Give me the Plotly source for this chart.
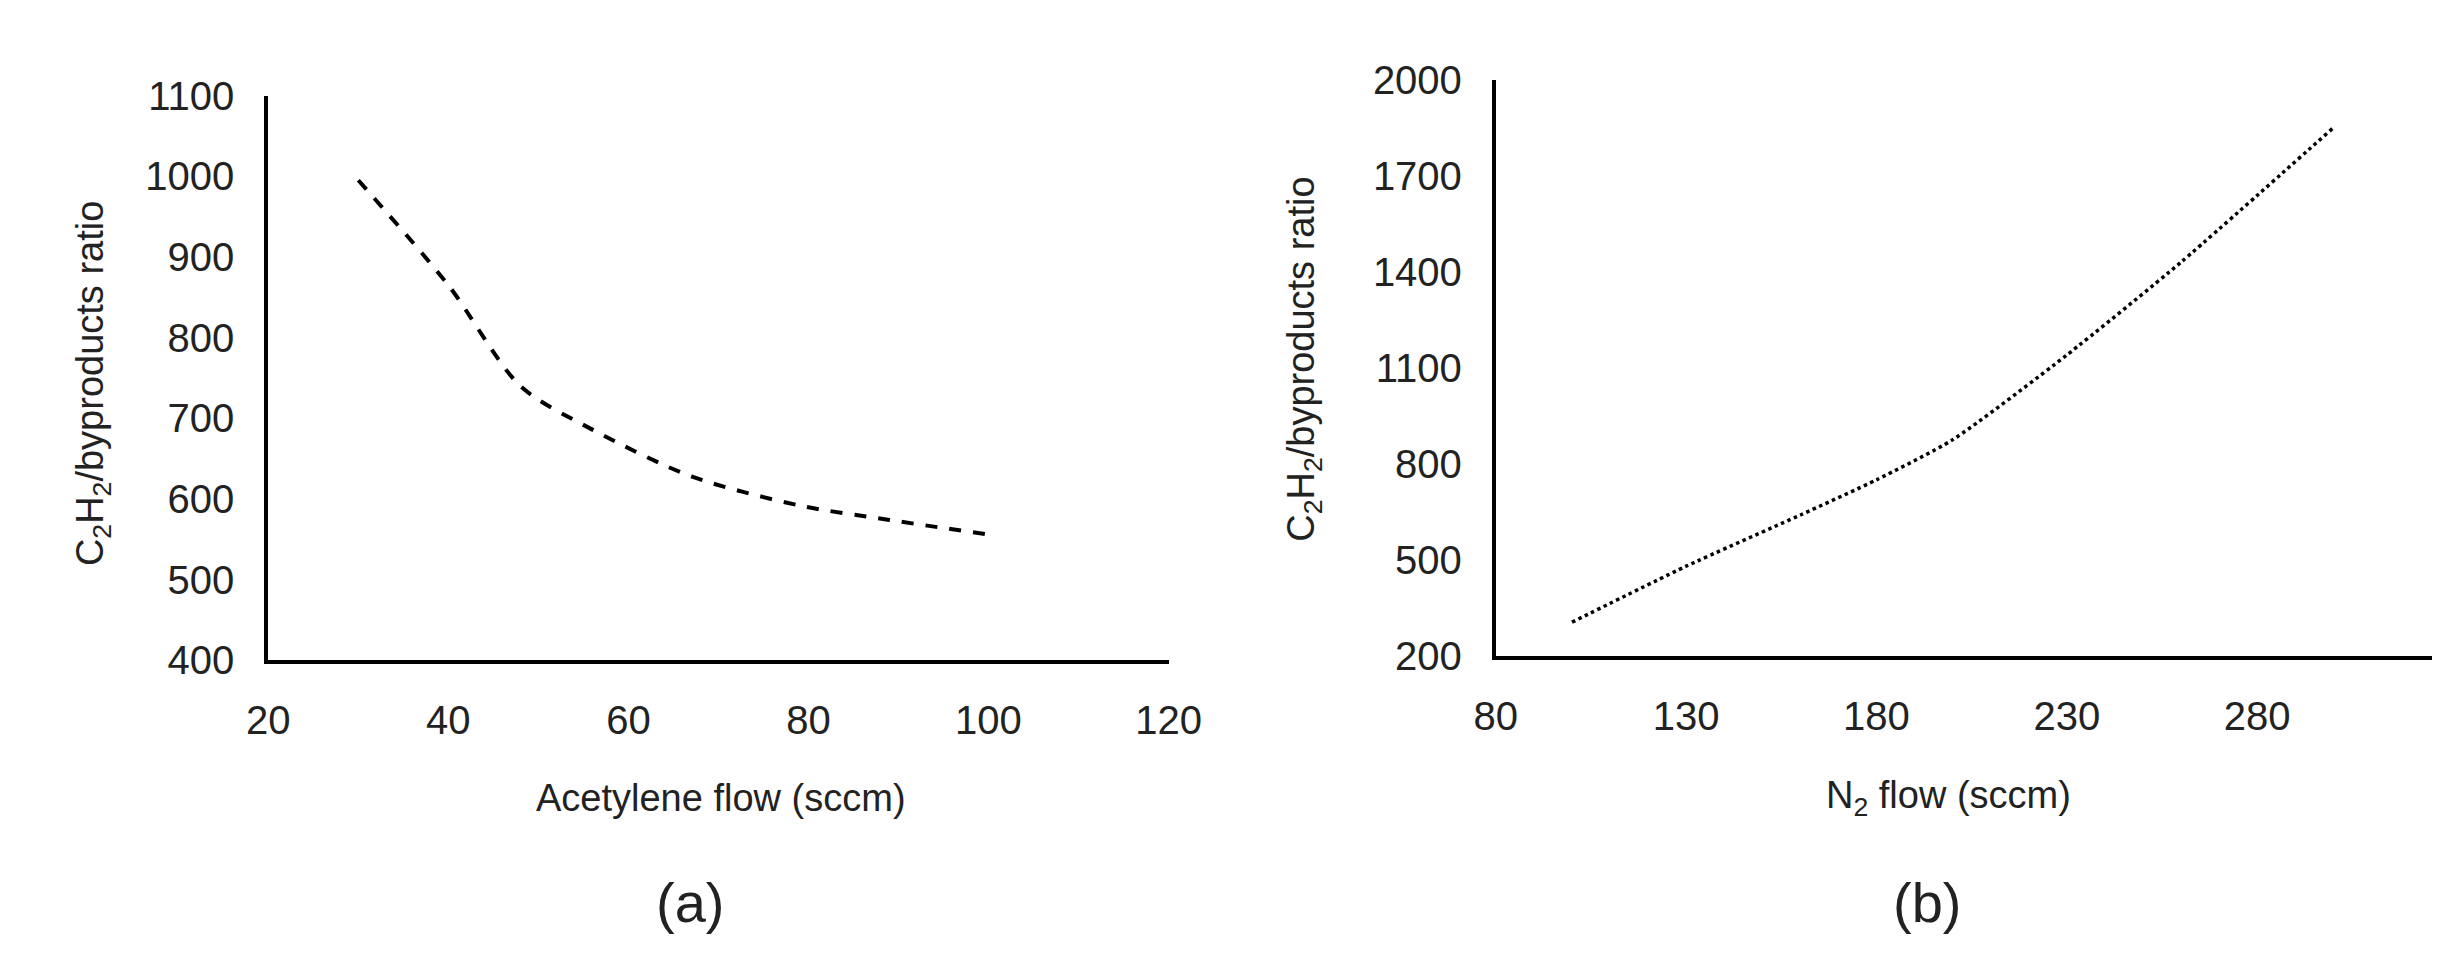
import plotly.graph_objects as go

ax_x = [30, 40, 48, 56, 67, 79, 89, 100]
ax_y = [995, 865, 740, 686, 628, 592, 574, 556]
bx_x = [100, 130, 160, 180, 200, 230, 260, 300]
bx_y = [305, 480, 640, 750, 875, 1140, 1430, 1850]

FONT = "Liberation Sans Narrow, Liberation Sans, sans-serif"
fig = go.Figure()
fig.add_trace(go.Scatter(x=ax_x, y=ax_y, mode="lines", line=dict(color="black", width=4, dash="dash", shape="spline", smoothing=0.8), xaxis="x", yaxis="y"))
fig.add_trace(go.Scatter(x=bx_x, y=bx_y, mode="lines", line=dict(color="black", width=3.5, dash="dot", shape="spline", smoothing=0.6), xaxis="x2", yaxis="y2"))

common = dict(showgrid=False, zeroline=False, showline=True, linecolor="black", linewidth=4,
              ticks="", tickfont=dict(family=FONT, size=40, color="#222"), ticklabelstandoff=22)
fig.update_layout(
    width=2462, height=967, margin=dict(l=0, r=0, t=0, b=0),
    plot_bgcolor="white", paper_bgcolor="white", showlegend=False,
    xaxis=dict(domain=[0.099, 0.473], range=[20, 120], dtick=20, anchor="y", **common),
    yaxis=dict(domain=[0.317, 0.929], range=[400, 1100], dtick=100, anchor="x", **common),
    xaxis2=dict(domain=[0.609, 0.998], range=[80, 326], tickvals=[80,130,180,230,280], anchor="y2", **common),
    yaxis2=dict(domain=[0.322, 0.946], range=[200, 2000], tickvals=[200,500,800,1100,1400,1700,2000], anchor="x2", **common),
)
ann = [
    dict(text="C<sub>2</sub>H<sub>2</sub>/byproducts ratio", x=0.026, y=0.617, textangle=-90, size=38),
    dict(text="C<sub>2</sub>H<sub>2</sub>/byproducts ratio", x=0.529, y=0.643, textangle=-90, size=38),
    dict(text="Acetylene flow (sccm)", x=0.287, y=0.168, textangle=0, size=38),
    dict(text="N<sub>2</sub> flow (sccm)", x=0.797, y=0.168, textangle=0, size=38),
    dict(text="(a)", x=0.274, y=0.055, textangle=0, size=56),
    dict(text="(b)", x=0.788, y=0.055, textangle=0, size=56),
]
for a in ann:
    fig.add_annotation(text=a["text"], x=a["x"], y=a["y"], xref="paper", yref="paper", showarrow=False,
                       textangle=a["textangle"], xanchor="center", yanchor="middle",
                       font=dict(family=FONT, size=a["size"], color="#222"))
fig.write_html("out.html")
